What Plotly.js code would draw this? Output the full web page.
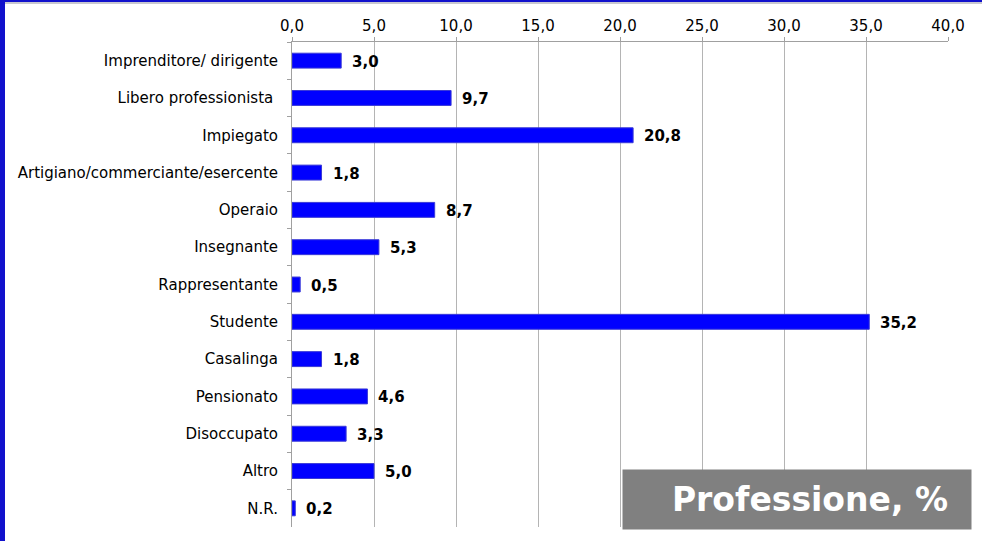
<!DOCTYPE html>
<html><head><meta charset="utf-8">
<script src="https://cdn.plot.ly/plotly-3.0.1.min.js"></script>
<style>
html,body{margin:0;padding:0;background:#fff;}
#wrap{position:relative;width:982px;height:541px;overflow:hidden;}
#chart{position:absolute;left:0;top:0;width:982px;height:541px;}
#bl{position:absolute;left:0;top:0;width:5px;height:541px;background:#1111cc;}
#bt{position:absolute;left:0;top:0;width:982px;height:2px;background:#1111cc;}
#bt2{position:absolute;left:5px;top:2px;width:977px;height:2px;background:#c8c8d0;}
</style></head>
<body><div id="wrap"><div id="chart"></div><div id="bl"></div><div id="bt"></div><div id="bt2"></div></div>
<script>
const categories = ["Imprenditore/ dirigente","Libero professionista\u00a0","Impiegato","Artigiano/commerciante/esercente","Operaio","Insegnante","Rappresentante","Studente","Casalinga","Pensionato","Disoccupato","Altro","N.R."];
const values = [3.0, 9.7, 20.8, 1.8, 8.7, 5.3, 0.5, 35.2, 1.8, 4.6, 3.3, 5.0, 0.2];
const xTicks = [0,5,10,15,20,25,30,35,40];
const titleText = "Professione, %";

const fmt = v => v.toFixed(1).replace('.', ',');
const trace = {
  type: 'bar', orientation: 'h', x: values, y: categories, width: 0.4,
  marker: {color: '#0000ff', line: {color: '#3a3ad8', width: 1}},
  hoverinfo: 'none'
};
const annotations = values.map((v,i)=>({
  x: v, y: categories[i], xref:'x', yref:'y', text: '<b>'+fmt(v)+'</b>',
  showarrow:false, xanchor:'left', xshift: 9, yshift: -1,
  font:{family:'DejaVu Sans, Verdana, sans-serif', size:15, color:'#000'}
}));
annotations.push({
  xref:'paper', yref:'paper', x: 1.0366, y: -0.0062, xanchor:'right', yanchor:'bottom',
  text: '<b>'+titleText+'\u00a0\u00a0</b>', showarrow:false, bgcolor:'#808080',
  font:{family:'DejaVu Sans, Verdana, sans-serif', size:33, color:'#ffffff'},
  width: 348, height: 59, align:'right', valign:'middle', borderpad: 0
});
const layout = {
  width: 982, height: 541,
  margin: {l: 292, r: 34, t: 42, b: 14},
  paper_bgcolor: '#fff', plot_bgcolor: '#fff',
  separators: ', ',
  showlegend: false,
  font: {family: 'DejaVu Sans, Verdana, sans-serif', size: 15, color: '#000'},
  xaxis: {
    side: 'top', range: [0, 40], tickvals: xTicks, ticktext: xTicks.map(fmt),
    showgrid: true, gridcolor: '#b4b4b4', gridwidth: 1,
    showline: true, linecolor: '#a0a0a0', linewidth: 1,
    ticks: 'outside', ticklen: 4, tickcolor: '#a0a0a0',
    zeroline: false, fixedrange: true,
    tickfont: {size: 15, color: '#000'}
  },
  yaxis: {
    autorange: 'reversed', type: 'category',
    showline: true, linecolor: '#a0a0a0', linewidth: 1,
    ticks: 'outside', ticklen: 4, tickcolor: '#a0a0a0', tickson: 'boundaries',
    showgrid: false, ticklabelstandoff: 10,
    tickfont: {size: 15, color: '#000'}, fixedrange: true
  },
  annotations: annotations
};
Plotly.newPlot('chart', [trace], layout, {staticPlot: true, displayModeBar: false});
</script></body></html>
